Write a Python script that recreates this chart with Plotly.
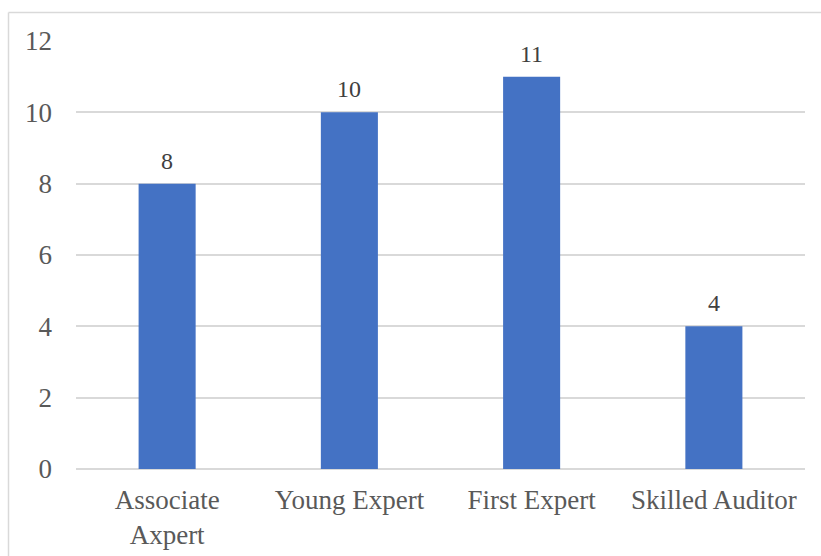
import plotly.graph_objects as go

# Staff counts by auditor grade
categories = ["Associate<br>Axpert", "Young Expert", "First Expert", "Skilled Auditor"]
counts = [8, 10, 11, 4]
y_ticks = [0, 2, 4, 6, 8, 10, 12]

BAR_COLOR = "#4472C4"
GRID_COLOR = "#D9D9D9"
TEXT_COLOR = "#595959"
LABEL_COLOR = "#404040"
FONT = "Liberation Serif, DejaVu Serif"

fig = go.Figure(
    go.Bar(
        x=categories,
        y=counts,
        marker=dict(color=BAR_COLOR, line=dict(width=0)),
        width=0.313,
        hoverinfo="x+y",
    )
)

# value labels above each bar
for cat, val in zip(categories, counts):
    fig.add_annotation(
        x=cat, y=val, text=str(val), showarrow=False,
        yanchor="middle", yshift=23,
        font=dict(family=FONT, size=24, color=LABEL_COLOR),
    )

W, H = 821, 556
ML, MR, MT, MB = 76, 16, 41, 87
pw = W - ML - MR
ph = H - MT - MB

# chart frame (left and top edges visible)
fig.add_shape(type="line", xref="paper", yref="paper",
              x0=(8.5 - ML) / pw, x1=(W + 5 - ML) / pw,
              y0=(H - MB - 12.5) / ph, y1=(H - MB - 12.5) / ph,
              line=dict(color=GRID_COLOR, width=1.5))
fig.add_shape(type="line", xref="paper", yref="paper",
              x0=(8.5 - ML) / pw, x1=(8.5 - ML) / pw,
              y0=(H - MB - 12.5) / ph, y1=-(MB + 5) / ph,
              line=dict(color=GRID_COLOR, width=1.5))

fig.update_layout(
    width=W, height=H,
    margin=dict(l=ML, r=MR, t=MT, b=MB, pad=0),
    paper_bgcolor="white",
    plot_bgcolor="white",
    showlegend=False,
    font=dict(family=FONT, size=27, color=TEXT_COLOR),
    bargap=0.687,
)
fig.update_xaxes(
    showgrid=False, zeroline=False, showline=False, automargin=False,
    ticks="", ticklabelstandoff=12,
    tickfont=dict(family=FONT, size=27, color=TEXT_COLOR),
)
fig.update_yaxes(
    range=[0, 12], tickvals=y_ticks, showgrid=True, automargin=False,
    gridcolor=GRID_COLOR, gridwidth=1.5,
    zeroline=True, zerolinecolor=GRID_COLOR, zerolinewidth=1.5,
    showline=False, ticks="", ticklabelstandoff=23,
    tickfont=dict(family=FONT, size=27, color=TEXT_COLOR),
)

fig.write_html("out.html")
